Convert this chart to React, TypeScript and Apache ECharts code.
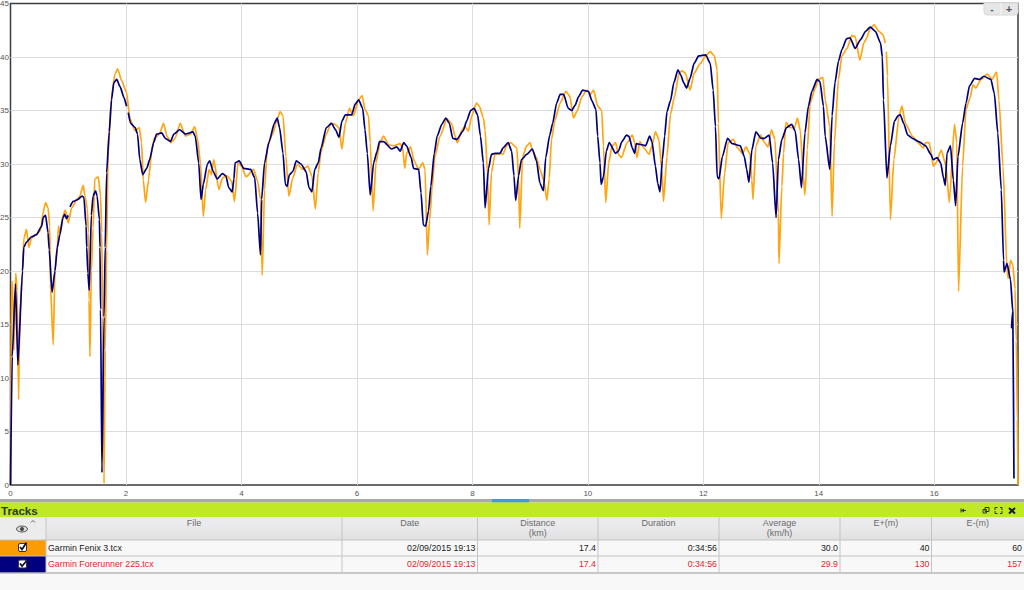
import React, { useEffect, useRef } from "react";
import * as echarts from "echarts";

const fenixName = "Garmin Fenix 3.tcx";
const forerunnerName = "Garmin Forerunner 225.tcx";

// km, km/h
const fenixTrack: (number | null)[][] = [
  [0,0],[0.017,18.9],[0.035,19],[0.06,12.6],[0.09,19.8],[0.115,18.2],[0.14,8],[0.16,15.7],[0.208,20],[0.23,23],[0.277,23.9],[0.32,22.2],[0.364,23.1],[0.45,23.4],[0.52,23.8],[0.566,25.5],[0.607,26.4],[0.65,25.9],[0.68,24.2],[0.69,18.8],[0.74,13.1],[0.77,20],[0.81,22],[0.83,24.2],[0.855,23.6],[0.91,25.2],[0.95,25.7],[1.0,24.5],[1.06,25.9],[1.145,26.6],[1.2,27],[1.26,28],[1.29,27],[1.33,25.8],[1.35,23.6],[1.36,17.3],[1.376,12],[1.4,20],[1.43,24],[1.46,28.6],[1.52,28.8],[1.56,27],[1.58,23.6],[1.595,15.7],[1.62,0.15],[1.64,12.6],[1.665,22],[1.69,30.8],[1.75,36.4],[1.81,38.4],[1.855,38.9],[1.925,37.8],[2.01,36.7],[2.06,34.6],
  [2.07,34.2],[2.16,33.1],[2.23,33.4],[2.27,32],[2.3,28.5],[2.34,26.4],[2.39,28.5],[2.45,31.4],[2.49,32.4],[2.58,32.8],[2.65,33.8],[2.71,32.6],[2.78,32],[2.85,32.4],[2.94,33.8],[3.03,32.6],[3.12,32.8],[3.19,33.5],[3.24,32.3],[3.29,30.1],[3.34,25.1],[3.38,27.6],[3.44,29.5],[3.48,29],[3.52,30.4],[3.61,27.6],[3.67,28.7],[3.75,28.9],[3.83,28.4],[3.88,26.5],[3.94,30.1],[4,29.8],[4.08,28.8],[4.21,29.5],[4.28,28.4],[4.33,26.7],[4.36,19.6],[4.4,27.6],[4.45,31.7],[4.54,32.8],[4.62,34.2],[4.67,34.9],[4.72,34.5],[4.77,30.7],[4.82,27],[4.89,28.7],[4.97,30],[5.06,29.5],[5.15,29.8],[5.22,28.9],[5.28,25.8],[5.33,29.2],[5.38,31.2],[5.47,32.8],[5.55,33.8],[5.62,33.7],[5.69,33.4],[5.74,31.4],
  [5.8,33.8],[5.87,35.2],[5.94,34.5],[6.03,36],[6.09,36.4],[6.14,35.1],[6.2,34.5],[6.23,32],[6.28,25.6],[6.33,30.1],[6.4,32],[6.46,32.6],[6.55,31.8],[6.63,31.7],[6.75,31.9],[6.79,31.5],[6.83,29.6],[6.86,31],[6.93,31.6],[6.99,30.3],[7.07,29.5],[7.14,30.1],[7.18,29.5],[7.22,21.5],[7.26,24.8],[7.3,27.6],[7.35,30.7],[7.44,32.6],[7.56,34.2],[7.64,33.8],[7.7,32.6],[7.74,32],[7.82,33.2],[7.87,33.5],[7.93,33.1],[7.99,34.5],[8.07,35.7],[8.12,35.4],[8.19,34.3],[8.22,33.2],[8.26,29.2],[8.29,24.3],[8.33,29.2],[8.39,30.9],[8.48,31],[8.53,30.9],[8.59,31.7],[8.66,32],[8.77,31.5],[8.8,28.6],[8.82,24],[8.87,30.7],[8.94,31.7],[9,32],[9.04,31.2],[9.11,30.6],[9.17,29.5],[9.24,28.4],[9.29,26.6],[9.33,28.6],[9.37,32.3],
  [9.43,34.1],[9.52,35.7],[9.62,36.8],[9.69,36.3],[9.75,34.3],[9.81,34.9],[9.9,36.3],[9.98,36.9],[10.04,36.5],[10.1,36.9],[10.17,35.4],[10.24,35],[10.27,31.7],[10.31,26.4],[10.36,30.1],[10.42,31.7],[10.48,32],[10.53,30.9],[10.58,30.6],[10.68,32],[10.77,32.7],[10.81,32],[10.85,30.6],[10.9,32.1],[10.97,31.5],[11.06,30.9],[11.11,31.7],[11.17,33],[11.23,32.3],[11.28,29.5],[11.31,26.5],[11.37,30.7],[11.43,34.6],[11.5,36.3],[11.58,38.5],[11.63,38.7],[11.69,38.5],[11.77,36.9],[11.84,38.5],[11.95,39.4],[12.04,40.1],[12.12,40.5],[12.19,40.1],[12.24,38.8],[12.26,33.8],[12.31,24.9],[12.37,29.2],[12.43,32],[12.52,32.3],[12.59,31.5],[12.68,31],[12.74,31.6],[12.81,30.9],[12.84,28.5],[12.86,26.7],[12.91,31.7],[12.99,32.7],[13.06,32],[13.12,31.6],[13.18,33.2],
  [13.24,32.3],[13.3,25.4],[13.31,20.7],[13.36,27.9],[13.39,31],[13.43,33.9],[13.5,33.4],[13.58,33.4],[13.63,34.3],[13.68,33.1],[13.73,28.9],[13.76,27.1],[13.8,31.3],[13.85,35.7],[13.94,37.1],[13.99,37.9],[14.07,38.1],[14.11,36],[14.19,33.5],[14.23,25.1],[14.27,32],[14.34,37.9],[14.4,40.1],[14.49,40.8],[14.57,42],[14.63,41.9],[14.71,39.7],[14.78,41.3],[14.83,41.8],[14.89,42.7],[14.96,43],[15.04,42.4],[15.11,42.1],[15.15,41.3],[15.16,null],[15.17,40.5],[15.19,38.2],[15.24,24.8],[15.3,30.4],[15.39,34.5],[15.44,35.4],[15.5,33.8],[15.62,32.6],[15.7,32.1],[15.81,31.5],[15.85,32],[15.91,32],[15.95,31],[15.98,29.8],[16.03,30.1],[16.12,31.3],[16.2,29.9],[16.26,26.4],[16.35,33.7],[16.39,32],[16.42,18.1],[16.49,29.8],[16.55,35.1],[16.62,36.2],[16.67,37.4],[16.72,37.1],[16.81,37.9],[16.92,38.4],[17,37.9],[17.08,38.6],[17.12,36],[17.19,29.8],[17.26,20.1],[17.28,19.3],[17.32,21],[17.36,20.6],[17.4,18.3],[17.42,13.5],[17.44,6],[17.45,0],
];

const forerunnerTrack: (number | null)[][] = [
  [0,0],[0.03,12],[0.087,18.8],[0.127,11.2],[0.208,20],[0.23,22.2],[0.277,22.7],[0.364,23.2],[0.45,23.4],[0.54,24.2],[0.566,25],[0.607,25.2],[0.65,23.6],[0.67,22],[0.72,18],[0.77,20],[0.81,22.2],[0.855,23.4],[0.91,25],[0.94,25.3],[0.97,24.9],[1.0,25.2],[1.015,null],[1.03,26],[1.087,26.5],[1.17,26.7],[1.24,27],[1.27,26.9],[1.31,24.2],[1.32,22.2],[1.34,19.8],[1.364,18.2],[1.4,25.2],[1.43,27],[1.474,27.5],[1.5,27],[1.54,24.8],[1.55,22.2],[1.56,16.4],[1.584,1.15],[1.62,15.7],[1.64,22.2],[1.665,29.2],[1.71,33],[1.75,36],[1.79,37.6],[1.84,37.9],[1.9,37.2],[1.965,36.2],[2.01,35.4],[2.025,null],[2.04,34.8],[2.08,33.8],
  [2.16,33.4],[2.2,32.8],[2.24,30.4],[2.29,29],[2.36,29.6],[2.41,30.4],[2.48,32],[2.53,32.8],[2.62,32.9],[2.68,32.4],[2.77,32.1],[2.83,32.8],[2.93,33.2],[3.03,32.8],[3.16,33],[3.2,32.6],[3.26,30.1],[3.3,26.7],[3.34,28.1],[3.41,30],[3.45,30.3],[3.51,29.3],[3.58,28.6],[3.67,29.1],[3.73,28.9],[3.78,27.8],[3.84,27.4],[3.87,28.6],[3.89,30.1],[3.96,30.3],[4.04,29.6],[4.16,29.5],[4.23,28.7],[4.28,25.4],[4.33,21.5],[4.35,26.7],[4.4,30.1],[4.48,32.1],[4.57,33.8],[4.62,34.3],[4.66,33.4],[4.72,31],[4.76,28.1],[4.79,27.9],[4.83,29],[4.89,29.3],[4.95,30.3],[5.03,30],[5.12,29.3],[5.17,27.8],[5.22,27.4],[5.27,29.5],[5.33,30.1],[5.38,31.5],[5.47,33.4],[5.56,33.8],[5.63,33.2],[5.69,32.5],[5.74,34],
  [5.8,34.6],[5.91,34.6],[5.97,35.6],[6.03,36],[6.1,35.2],[6.14,33.2],[6.18,31],[6.23,27.1],[6.29,30.1],[6.35,31.2],[6.39,32.1],[6.46,32.1],[6.6,31.4],[6.69,31.6],[6.75,31.2],[6.81,32],[6.86,31.7],[6.94,30.6],[6.98,29.6],[7.07,29.5],[7.11,27.3],[7.15,24.3],[7.19,24.2],[7.24,25.6],[7.28,27.9],[7.34,31],[7.39,32.6],[7.47,33.7],[7.54,34.3],[7.6,33.8],[7.66,32.4],[7.73,32.3],[7.84,33.1],[7.9,34],[7.97,35],[8.03,35.2],[8.09,34.6],[8.14,32.6],[8.19,30.1],[8.22,25.9],[8.28,29.6],[8.33,30.9],[8.39,31],[8.48,31],[8.53,31.5],[8.62,32],[8.68,31.2],[8.72,28.9],[8.75,26.6],[8.8,28.9],[8.85,30.4],[8.94,30.9],[9.04,31.4],[9.11,30.3],[9.17,28.2],[9.23,27.5],[9.27,30.6],[9.34,32.7],
  [9.39,33.8],[9.46,35.7],[9.52,36.5],[9.58,36.5],[9.66,35.2],[9.72,35],[9.78,35.5],[9.84,36.3],[9.91,36.9],[10.01,36.8],[10.07,35.9],[10.14,35.1],[10.17,32.6],[10.21,30.1],[10.23,28.1],[10.27,28.8],[10.32,31.2],[10.37,32],[10.48,31],[10.53,31.2],[10.59,32.1],[10.67,32.7],[10.71,32.6],[10.77,31.5],[10.81,31],[10.84,31.9],[10.94,31.8],[11,31.7],[11.07,32.6],[11.11,32.1],[11.17,29.8],[11.21,28.2],[11.25,27.4],[11.29,30.4],[11.33,32.6],[11.37,34.9],[11.43,35.9],[11.49,37.6],[11.56,38.8],[11.61,38.3],[11.66,37.6],[11.71,37.1],[11.77,38],[11.84,39.4],[11.92,40.1],[12.04,40.2],[12.12,39.4],[12.17,36.9],[12.21,33.5],[12.24,28.8],[12.27,28.6],[12.33,30.7],[12.42,32.4],[12.5,31.9],[12.64,31.7],[12.71,30.7],[12.75,29.5],[12.79,28.3],[12.84,31.3],[12.91,33],[13,32.4],[13.06,32.4],[13.14,32.7],
  [13.2,30.1],[13.26,25],[13.3,30.4],[13.36,32.3],[13.44,33.4],[13.53,33.7],[13.59,33.1],[13.65,30.4],[13.7,27.8],[13.76,32.9],[13.82,35.4],[13.88,36.8],[13.97,37.9],[14.02,37.7],[14.08,35.4],[14.11,32.6],[14.19,29.5],[14.23,34.5],[14.28,37.6],[14.34,39.6],[14.4,40.7],[14.48,41.7],[14.54,41.8],[14.63,40.8],[14.72,41.6],[14.81,42.4],[14.89,42.8],[14.98,42.4],[15.07,41.3],[15.1,40],[15.12,36],[15.18,28.7],[15.24,31.7],[15.31,34],[15.37,34.5],[15.41,34.6],[15.47,33.8],[15.54,32.7],[15.62,32.4],[15.73,32.1],[15.85,31.7],[15.94,30.9],[15.98,30.4],[16.05,30.6],[16.11,30.1],[16.16,28.7],[16.19,28],[16.22,31],[16.28,31.7],[16.33,28.5],[16.37,26.1],[16.41,30.7],[16.49,33.8],[16.55,35.7],[16.61,37.3],[16.7,38],[16.78,37.9],[16.86,38.2],[16.98,37.9],[17.04,36.6],[17.1,32.9],[17.16,27.6],[17.2,21],[17.21,19.9],[17.26,20.7],[17.32,19.2],[17.36,16.2],[17.34,14.7],[17.36,16.2],[17.38,0.6],
];

const columnHeaders = [["File"], ["Date"], ["Distance", "(km)"], ["Duration"], ["Average", "(km/h)"], ["E+(m)"], ["E-(m)"]];
const fenixRow = [fenixName, "02/09/2015 19:13", "17.4", "0:34:56", "30.0", "40", "60"];
const forerunnerRow = [forerunnerName, "02/09/2015 19:13", "17.4", "0:34:56", "29.9", "130", "157"];
const tableTitle = "Tracks";

const FONT = "'Liberation Sans', Arial, sans-serif";
const ORANGE = "#ffa50f";
const NAVY = "#00007f";
const colEdges = [46, 342, 477.5, 598, 719, 840, 931.5, 1024];
const H_TOP = 517.5, H_BOT = 540, R1_BOT = 556, R2_BOT = 573;

function buildGraphics() {
  const g: any[] = [];
  // zoom buttons
  g.push({ type: "rect", shape: { x: 984, y: 3, width: 34, height: 12, r: [0, 0, 3, 3] }, style: { fill: "#e6e6e6", stroke: "#d8d8d8" } });
  g.push({ type: "line", shape: { x1: 1001, y1: 3, x2: 1001, y2: 15 }, style: { stroke: "#f6f6f6" } });
  g.push({ type: "text", style: { x: 992, y: 9, text: "-", fill: "#555", font: `bold 10px ${FONT}`, align: "center", verticalAlign: "middle" } });
  g.push({ type: "text", style: { x: 1009, y: 9, text: "+", fill: "#555", font: `bold 11px ${FONT}`, align: "center", verticalAlign: "middle" } });
  // page below the chart
  g.push({ type: "rect", shape: { x: 0, y: 573, width: 1024, height: 17 }, style: { fill: "#f8f8f8" } });
  // scrollbar
  g.push({ type: "rect", shape: { x: 0, y: 499, width: 1024, height: 3.5 }, style: { fill: "#a9a9a9" } });
  g.push({ type: "rect", shape: { x: 492, y: 499, width: 37, height: 3.5 }, style: { fill: "#3d9bd6" } });
  // title bar
  g.push({ type: "rect", shape: { x: 0, y: 502.5, width: 1024, height: 15 }, style: { fill: "#bfe825" } });
  g.push({ type: "text", style: { x: 1, y: 510.5, text: tableTitle, fill: "#2c3a10", font: `bold 11.6px ${FONT}`, verticalAlign: "middle" } });
  // toolbar icons
  g.push({ type: "polygon", shape: { points: [[961, 510.5], [964, 508.5], [964, 512.5]] }, style: { fill: "#334" } });
  g.push({ type: "line", shape: { x1: 961, y1: 508.5, x2: 961, y2: 512.5 }, style: { stroke: "#334" } });
  g.push({ type: "line", shape: { x1: 964, y1: 510.5, x2: 966, y2: 510.5 }, style: { stroke: "#334" } });
  g.push({ type: "rect", shape: { x: 985, y: 507.5, width: 4, height: 4 }, style: { fill: "none", stroke: "#334" } });
  g.push({ type: "rect", shape: { x: 983, y: 509.5, width: 3.5, height: 3.5 }, style: { fill: "none", stroke: "#334" } });
  g.push({ type: "polyline", shape: { points: [[995, 510], [995, 507.5], [997.5, 507.5]] }, style: { fill: "none", stroke: "#334" } });
  g.push({ type: "polyline", shape: { points: [[1000, 507.5], [1002, 507.5], [1002, 510]] }, style: { fill: "none", stroke: "#334" } });
  g.push({ type: "polyline", shape: { points: [[995, 511], [995, 513.5], [997.5, 513.5]] }, style: { fill: "none", stroke: "#334" } });
  g.push({ type: "polyline", shape: { points: [[1000, 513.5], [1002, 513.5], [1002, 511]] }, style: { fill: "none", stroke: "#334" } });
  g.push({ type: "line", shape: { x1: 1009, y1: 508, x2: 1015, y2: 513.5 }, style: { stroke: "#1a1a2a", lineWidth: 2 } });
  g.push({ type: "line", shape: { x1: 1015, y1: 508, x2: 1009, y2: 513.5 }, style: { stroke: "#1a1a2a", lineWidth: 2 } });
  // header
  g.push({
    type: "rect", shape: { x: 0, y: H_TOP, width: 1024, height: H_BOT - H_TOP },
    style: { fill: new echarts.graphic.LinearGradient(0, 0, 0, 1, [{ offset: 0, color: "#ececee" }, { offset: 0.5, color: "#e9e9eb" }, { offset: 1, color: "#e0e0e0" }]) },
  });
  g.push({ type: "rect", shape: { x: 0, y: H_TOP, width: 46, height: H_BOT - H_TOP }, style: { fill: "#ececec" } });
  // eye and sort caret
  g.push({ type: "ellipse", shape: { cx: 22, cy: 529, rx: 5.5, ry: 3 }, style: { fill: "#ddd", stroke: "#555", lineWidth: 1 } });
  g.push({ type: "circle", shape: { cx: 22, cy: 529, r: 2 }, style: { fill: "#444" } });
  g.push({ type: "polyline", shape: { points: [[31, 522.5], [33, 520.5], [35, 522.5]] }, style: { fill: "none", stroke: "#666" } });
  // rows
  g.push({ type: "rect", shape: { x: 46, y: H_BOT, width: 978, height: R2_BOT - H_BOT }, style: { fill: "#f8f8f8" } });
  g.push({ type: "rect", shape: { x: 0, y: H_BOT, width: 46, height: R1_BOT - H_BOT }, style: { fill: "#fb9c05" } });
  g.push({ type: "rect", shape: { x: 0, y: R1_BOT, width: 46, height: R2_BOT - R1_BOT }, style: { fill: "#02007f" } });
  [H_BOT, R1_BOT, R2_BOT].forEach((y, i) =>
    g.push({ type: "line", shape: { x1: 0, y1: y, x2: 1024, y2: y }, style: { stroke: i === 2 ? "#b8b8b8" : "#c2c2c2", lineWidth: i === 2 ? 1.5 : 1 } })
  );
  colEdges.slice(0, -1).forEach((x) =>
    g.push({ type: "line", shape: { x1: x, y1: H_TOP, x2: x, y2: R2_BOT }, style: { stroke: "#c4c4c4" } })
  );
  // checkboxes
  [547.5, 564].forEach((cy, i) => {
    g.push({ type: "rect", shape: { x: 18.5, y: cy - 4, width: 8, height: 8, r: 1.5 }, style: { fill: "#fff", stroke: "#333", lineWidth: 1 } });
    g.push({ type: "polyline", shape: { points: [[20, cy - 0.5], [22, cy + 2], [26.5, cy - (i ? 3 : 5)]] }, style: { fill: "none", stroke: "#10103a", lineWidth: 1.8 } });
  });
  // header labels
  columnHeaders.forEach((lines, i) => {
    const cx = (colEdges[i] + colEdges[i + 1]) / 2;
    lines.forEach((t, j) =>
      g.push({ type: "text", style: { x: cx, y: 522.5 + j * 10.5, text: t, fill: "#6a6a6a", font: `9px ${FONT}`, align: "center", verticalAlign: "middle" } })
    );
  });
  // cells
  [fenixRow, forerunnerRow].forEach((row, r) => {
    const y = r === 0 ? 547.8 : 564.3;
    const fill = r === 0 ? "#1a1a1a" : "#ea1c2c";
    row.forEach((t, i) => {
      const left = i === 0;
      g.push({
        type: "text",
        style: { x: left ? colEdges[i] + 2 : colEdges[i + 1] - 2, y, text: t, fill, font: `8.8px ${FONT}`, align: left ? "left" : "right", verticalAlign: "middle" },
      });
    });
  });
  return g;
}

export default function App() {
  const ref = useRef<HTMLDivElement>(null);
  useEffect(() => {
    const chart = echarts.init(ref.current!, undefined, { renderer: "svg" });
    const common = { type: "line", showSymbol: false, symbol: "none", smooth: 0.2, smoothMonotone: "x", silent: true, connectNulls: false };
    const split = { show: true, showMinLine: false, showMaxLine: false, lineStyle: { color: "#dcdcdc", width: 1 } };
    chart.setOption({
      animation: false,
      backgroundColor: "#ffffff",
      grid: { left: 10.5, top: 3.5, width: 1007.5, height: 481.5, show: true, borderColor: "#3c3c3c", borderWidth: 1.5, backgroundColor: "#fff", outerBoundsMode: "none", containLabel: false },
      xAxis: {
        type: "value", min: 0, max: 17.45, interval: 2,
        axisLine: { show: false }, axisTick: { show: false },
        axisLabel: { color: "#555", fontSize: 8, fontFamily: FONT, margin: 4, showMaxLabel: false },
        splitLine: split,
      },
      yAxis: {
        type: "value", min: 0, max: 45, interval: 5,
        axisLine: { show: false }, axisTick: { show: false },
        axisLabel: { color: "#555", fontSize: 8, fontFamily: FONT, margin: 1.5 },
        splitLine: split,
      },
      series: [
        { ...common, name: fenixName, data: fenixTrack, lineStyle: { color: ORANGE, width: 1.7 }, z: 2 },
        { ...common, name: forerunnerName, data: forerunnerTrack, lineStyle: { color: NAVY, width: 1.7 }, z: 3 },
      ],
      graphic: { elements: buildGraphics() },
    });
    return () => chart.dispose();
  }, []);
  return <div ref={ref} style={{ position: "absolute", left: 0, top: 0, width: 1024, height: 590 }} />;
}
